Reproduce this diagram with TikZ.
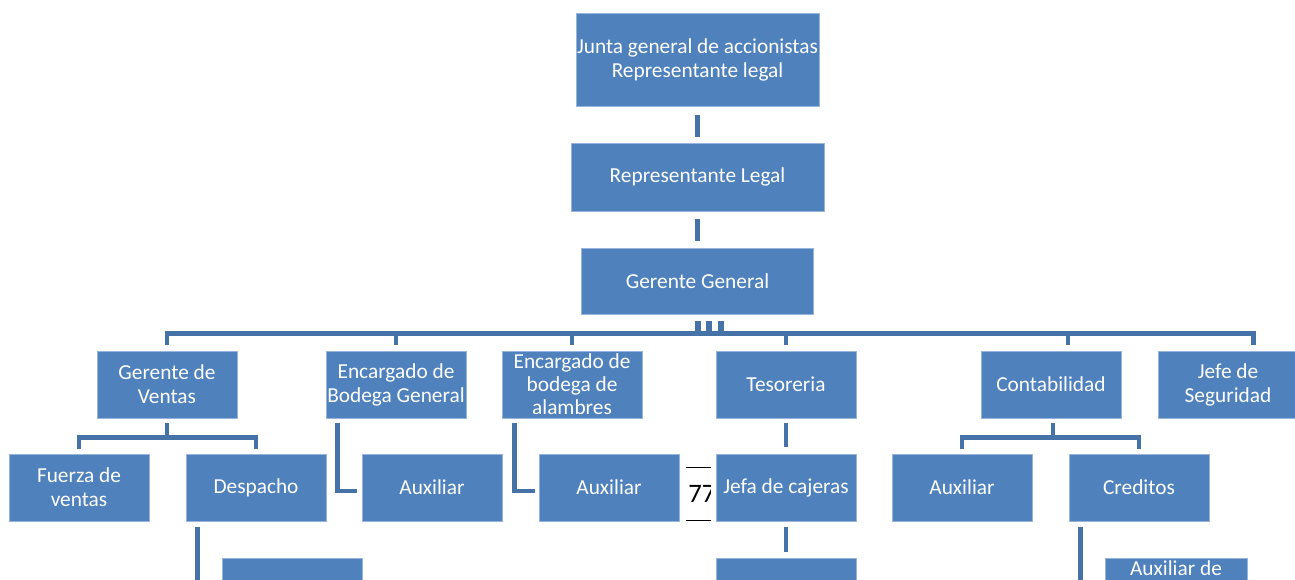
\documentclass[tikz,border=0pt]{standalone}
\usepackage{fontspec}
\setmainfont{Carlito}
\definecolor{orgBlue}{RGB}{79,129,189}
\definecolor{orgEdge}{RGB}{150,180,220}
\definecolor{orgLine}{RGB}{69,114,167}
\newcommand\orgfont{\fontsize{16}{18}\selectfont}
\tikzset{
  orgbox/.style={draw=orgEdge, line width=0.4pt, fill=orgBlue, text=white, align=center,
    minimum width=105pt, minimum height=50.25pt, inner sep=0.5pt, font=\orgfont},
  orgline/.style={draw=orgLine, line width=3.6pt},
}

\begin{document}
\begin{tikzpicture}[x=0.75pt, y=-0.75pt]
\clip (0,0) rectangle (1295,580);

% Top chain
\node[orgbox, minimum width=182.25pt, minimum height=69.75pt] (junta) at (697.5,59.5) {Junta general de accionistas\\Representante legal};
\node[orgbox, minimum width=189.75pt, minimum height=51pt] (replegal) at (697.5,177) {Representante Legal};
\node[orgbox, minimum width=174pt, minimum height=49.5pt] (gerente) at (697.5,281) {Gerente General};

\draw[orgline] ([yshift=-6.75pt]junta.south) -- ([yshift=4.5pt]replegal.north);
\draw[orgline] ([yshift=-6pt]replegal.south) -- ([yshift=5.25pt]gerente.north);

% Second row
\node[orgbox] (ventas) at (167,384.5) {Gerente de\\Ventas};
\node[orgbox] (bodgen) at (396,384.5) {Encargado de\\Bodega General};
\node[orgbox, inner ysep=-4pt, font=\fontsize{16}{17.25}\selectfont] (alamb) at (572,384.5) {Encargado de\\bodega de\\alambres};
\node[orgbox] (tesor) at (786,384.5) {Tesoreria};
\node[orgbox] (contab) at (1051,384.5) {Contabilidad};
\node[orgbox] (segur) at (1228,384.5) {Jefe de\\Seguridad};

% Third row
\node[orgbox] (fuerza) at (79,487.5) {Fuerza de\\ventas};
\node[orgbox] (desp) at (256,487.5) {Despacho};
\node[orgbox] (aux1) at (432,487.5) {Auxiliar};
\node[orgbox] (aux2) at (609,487.5) {Auxiliar};
\node[orgbox] (cajeras) at (786,487.5) {Jefa de cajeras};
\node[orgbox] (aux3) at (962,487.5) {Auxiliar};
\node[orgbox] (cred) at (1139,487.5) {Creditos};

% Fourth row (cut at the bottom)
\node[orgbox] (auxdesp) at (292,591.5) {};
\node[orgbox] (auxcaj) at (786,591.5) {};
\node[orgbox, minimum width=106.5pt] (auxcred) at (1176,591.5) {};
\node[text=white, font=\orgfont, anchor=base] (auxcredtxt) at (1176,575) {Auxiliar de};

% Bus under Gerente General
\coordinate (busA) at (0,333.5);
\foreach \s in {0.5,8.75,17.5}
  \draw[orgline, line width=4.2pt] ([xshift=\s pt, yshift=-5.25pt]gerente.south) -- ([xshift=\s pt]gerente.south |- busA);
\draw[orgline] ([yshift=4.5pt]ventas.north) -- (ventas.north |- busA)
  -- ([xshift=19.1pt]segur.north |- busA) -- ([xshift=19.1pt, yshift=4.5pt]segur.north);
\foreach \n in {bodgen,alamb,tesor}
  \draw[orgline] (\n.north |- busA) -- ([yshift=4.5pt]\n.north);
\draw[orgline] ([xshift=12.75pt]contab.north |- busA) -- ([xshift=12.75pt, yshift=4.5pt]contab.north);

% Second to third row
\coordinate (busB) at (0,437.5);
\draw[orgline] ([yshift=-3.75pt]ventas.south) -- (ventas.south |- busB);
\draw[orgline] ([yshift=3.75pt]fuerza.north) -- (fuerza.north |- busB)
  -- (desp.north |- busB) -- ([yshift=3.75pt]desp.north);
\draw[orgline] ([xshift=9pt, yshift=-3.75pt]bodgen.south west) |- ([xshift=-3.75pt, yshift=-2.6pt]aux1.west);
\draw[orgline] ([xshift=9.4pt, yshift=-3.75pt]alamb.south west) |- ([xshift=-3pt, yshift=-2.6pt]aux2.west);
\draw[orgline] ([yshift=-3.75pt]tesor.south) -- ([yshift=5.25pt]cajeras.north);
\draw[orgline] ([xshift=1.5pt, yshift=-3.75pt]contab.south) -- ([xshift=1.5pt]contab.south |- busB);
\draw[orgline] ([yshift=3.75pt]aux3.north) -- (aux3.north |- busB)
  -- (cred.north |- busB) -- ([yshift=3.75pt]cred.north);

% Third to fourth row
\draw[orgline] ([xshift=8.6pt, yshift=-4.5pt]desp.south west) |- ([xshift=-3.75pt]auxdesp.west);
\draw[orgline] ([yshift=-4.5pt]cajeras.south) -- ([yshift=4.5pt]auxcaj.north);
\draw[orgline] ([xshift=9pt, yshift=-4.5pt]cred.south west) |- ([xshift=-3.75pt]auxcred.west);

% Stray mark left of Jefa de cajeras
\draw[black, line width=0.9pt] (686,467.5) -- (711,467.5);
\draw[black, line width=0.9pt] (686,520.5) -- (711,520.5);
\begin{scope}
  \clip (686,462) rectangle (710,525);
  \node[text=black, font=\fontsize{20}{20}\selectfont, anchor=base west, inner sep=0pt] (stray) at (688,503) {77};
\end{scope}
\end{tikzpicture}
\end{document}
